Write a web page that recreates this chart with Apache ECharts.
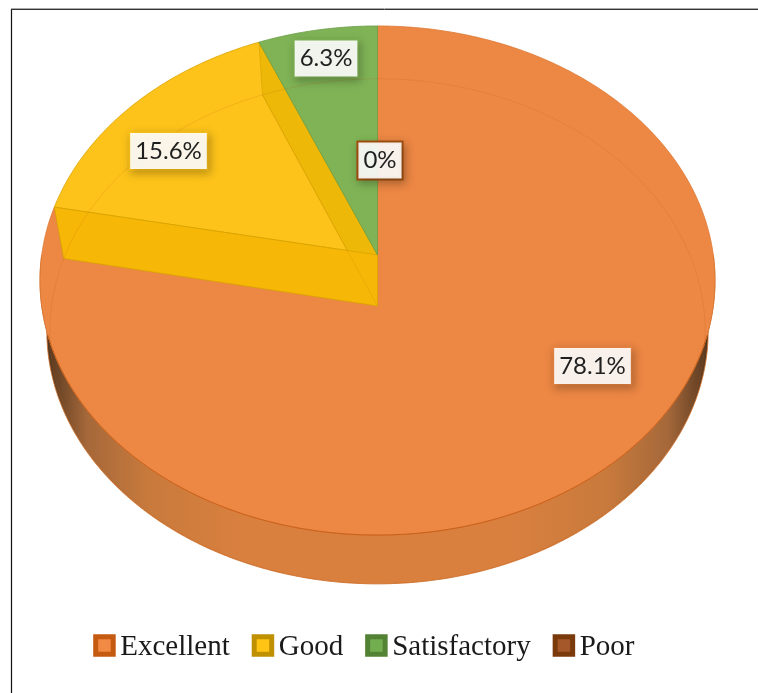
<!DOCTYPE html>
<html>
<head>
<meta charset="utf-8">
<style>html,body{margin:0;padding:0;background:#fff}#chart{width:758px;height:693px}</style>
<script src="https://cdn.jsdelivr.net/npm/echarts@6/dist/echarts.min.js"></script>
</head>
<body>
<div id="chart"></div>
<script>
// Rating shares, in percent, going clockwise from twelve o'clock
const categories = ['Excellent', 'Good', 'Satisfactory', 'Poor'];
const shares = [78.1, 15.6, 6.3, 0];

const faceColors = ['#EC8744', '#FDC31A', '#7FB356', '#A5582A'];
const edgeColors = ['#DD7A35', '#D9A300', '#6A9E45', '#A0500F'];
const legendBorders = ['#C55A11', '#BF9000', '#548235', '#7B3A0C'];
const legendFills = ['#F08A45', '#FFC414', '#72AD4F', '#A5582A'];
const labelCenters = [[592.5, 366], [168.5, 151], [326, 58.5], [380, 160.5]];

// Perspective-projected disc: k tilts the far half, a and b scale the near plane
const topFace = { x: 377.5, y: 255, a: 335.8, b: 252, k: 0.1002 };
const baseFace = { x: 377.5, y: 306, a: 326, b: 250, k: 0.1002 };
const wallFace = { x: 377.5, y: 306, a: 329, b: 250, k: 0.1002 };

function rim(face, deg) {
  const t = deg * Math.PI / 180;
  const d = 1 + face.k * Math.cos(t);
  return [face.x + face.a * Math.sin(t) / d, face.y - face.b * Math.cos(t) / d];
}
function arc(face, from, to) {
  const n = Math.max(2, Math.ceil(Math.abs(to - from) * 2));
  const pts = [];
  for (let i = 0; i <= n; i++) pts.push(rim(face, from + (to - from) * i / n));
  return pts;
}
function apex(face) { return [face.x, face.y]; }
function poly(points, style, z2) {
  return { type: 'polygon', silent: true, z2: z2 || 0, shape: { points: points }, style: style };
}
function startAngle(index) {
  return shares.slice(0, index).reduce((s, v) => s + v, 0) * 3.6;
}
function labelText(v) {
  return v === 0 ? '0%' : v.toFixed(1) + '%';
}

function sliceRenderer(index) {
  return function (params, api) {
    const value = api.value(0);
    const from = startAngle(index);
    const to = from + value * 3.6;
    const children = [];

    // Outer wall of the disc sits under the large slice
    if (index === 0) {
      children.push(poly(arc(topFace, 90, 270).concat(arc(wallFace, 270, 90)), {
        fill: new echarts.graphic.LinearGradient(0, 0, 1, 0, [
          { offset: 0, color: '#3f2a18' },
          { offset: 0.025, color: '#6a4426' },
          { offset: 0.07, color: '#a5683a' },
          { offset: 0.16, color: '#c87a3c' },
          { offset: 0.3, color: '#d9803f' },
          { offset: 0.7, color: '#d9803f' },
          { offset: 0.84, color: '#c87a3c' },
          { offset: 0.93, color: '#a5683a' },
          { offset: 0.975, color: '#6a4426' },
          { offset: 1, color: '#3f2a18' }
        ]),
        stroke: '#d0702a',
        lineWidth: 0.8
      }));
    }

    if (value > 0) {
      children.push(poly([apex(topFace)].concat(arc(topFace, from, to)), {
        fill: faceColors[index],
        stroke: edgeColors[index],
        lineWidth: 0.8
      }));
    }

    // Front edge of the top surface reads darker against the wall
    if (index === 0) {
      children.push({
        type: 'polyline', silent: true,
        shape: { points: arc(topFace, 108, 252) },
        style: { fill: null, stroke: '#C9601A', lineWidth: 1 }
      });
    }

    // The middle slice is cut open, showing its two inner walls
    if (index === 1) {
      children.push(poly([rim(topFace, to), apex(topFace), apex(baseFace), rim(baseFace, to)], {
        fill: '#EDB807', stroke: '#D9A300', lineWidth: 0.6
      }));
      children.push(poly([rim(topFace, from), apex(topFace), apex(baseFace), rim(baseFace, from)], {
        fill: '#F6B707', stroke: '#D9A300', lineWidth: 0.8
      }));
      children.push({
        type: 'polyline', silent: true,
        shape: { points: [apex(baseFace), rim(baseFace, to)] },
        style: { fill: null, stroke: 'rgba(190,130,0,0.25)', lineWidth: 0.8 }
      });
    }

    // Percentage tag
    children.push({
      type: 'text', silent: true, z2: 100,
      x: labelCenters[index][0], y: labelCenters[index][1],
      style: {
        text: labelText(value),
        font: '24px Lato, "Open Sans", sans-serif',
        fill: '#1f1f1f',
        align: 'center', verticalAlign: 'middle',
        backgroundColor: 'rgba(255,255,255,0.9)',
        borderColor: index === 3 ? '#A0500F' : faceColors[index],
        borderWidth: index === 3 ? 2 : 1.5,
        padding: [6, 5, 6, 5],
        shadowBlur: 8,
        shadowColor: 'rgba(0,0,0,0.24)',
        shadowOffsetX: 2,
        shadowOffsetY: 3
      }
    });

    return { type: 'group', children: children };
  };
}

const sliceSeries = categories.map((name, i) => ({
  name: name,
  type: 'custom',
  coordinateSystem: 'none',
  silent: true,
  animation: false,
  clip: false,
  data: [[shares[i]]],
  renderItem: sliceRenderer(i)
}));

// Far rim of the base showing faintly through the top surface
const baseRimSeries = {
  name: 'base rim',
  type: 'custom',
  coordinateSystem: 'none',
  silent: true,
  animation: false,
  data: [[0]],
  renderItem: function () {
    return poly(arc(baseFace, 0, 360), { fill: null, stroke: 'rgba(190,90,20,0.2)', lineWidth: 0.9 }, 50);
  }
};

const chart = echarts.init(document.getElementById('chart'), null, { renderer: 'canvas' });
chart.setOption({
  animation: false,
  backgroundColor: '#ffffff',
  legend: {
    left: 93.2,
    top: 629,
    padding: 0,
    itemWidth: 17.5,
    itemHeight: 17.5,
    itemGap: 22,
    selectedMode: false,
    icon: 'rect',
    formatter: '{t|{name}}',
    textStyle: {
      rich: {
        t: {
          fontFamily: '"Liberation Serif", serif',
          fontSize: 29,
          color: '#1a1a1a',
          lineHeight: 29,
          padding: [4, 0, 0, 2]
        }
      }
    },
    data: categories.map((name, i) => ({
      name: name,
      itemStyle: { color: legendFills[i], borderColor: legendBorders[i], borderWidth: 5 }
    }))
  },
  graphic: [
    { type: 'line', silent: true, shape: { x1: 11.5, y1: 9, x2: 11.5, y2: 693 }, style: { stroke: '#111111', lineWidth: 1.2 } },
    { type: 'line', silent: true, shape: { x1: 11, y1: 8.5, x2: 758, y2: 8.5 }, style: { stroke: '#aaaaaa', lineWidth: 1 } },
    { type: 'line', silent: true, shape: { x1: 11, y1: 9.5, x2: 758, y2: 9.5 }, style: { stroke: '#333333', lineWidth: 1 } }
  ],
  series: sliceSeries.concat([baseRimSeries])
});
</script>
</body>
</html>
